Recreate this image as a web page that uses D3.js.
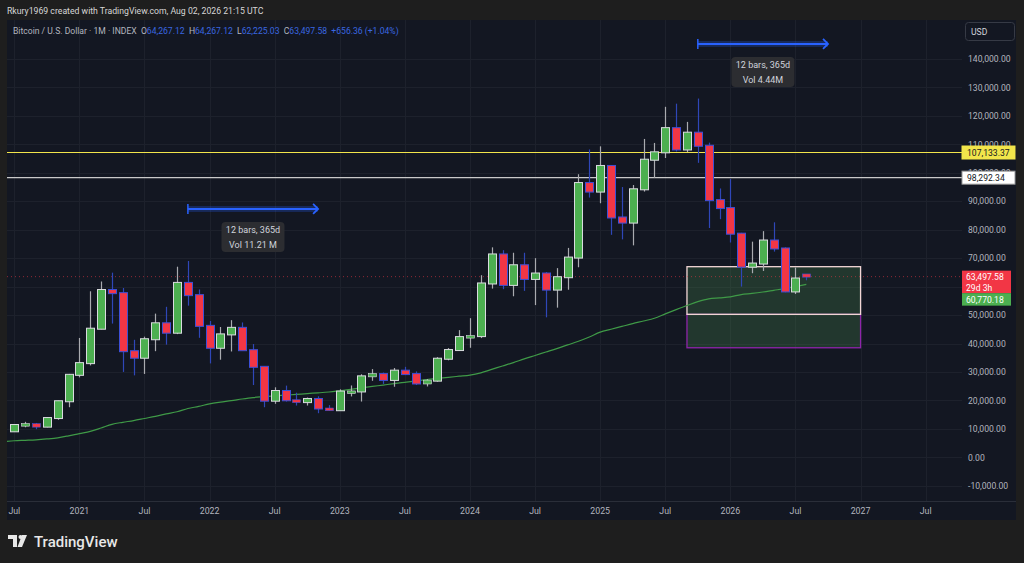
<!DOCTYPE html>
<html>
<head>
<meta charset="utf-8">
<script src="https://cdn.jsdelivr.net/npm/d3@7"></script>
<style>
  body { margin: 0; background: #1e1e1e; overflow: hidden; }
  svg text { font-family: Roboto, "Liberation Sans", sans-serif; }
</style>
</head>
<body>
<div id="chart"></div>
<script>
// Monthly BTC candles, Jul 2020 .. Aug 2026 (bar index 0..73)
const months = ["2020-07","2020-08","2020-09","2020-10","2020-11","2020-12",
  "2021-01","2021-02","2021-03","2021-04","2021-05","2021-06","2021-07","2021-08","2021-09","2021-10","2021-11","2021-12",
  "2022-01","2022-02","2022-03","2022-04","2022-05","2022-06","2022-07","2022-08","2022-09","2022-10","2022-11","2022-12",
  "2023-01","2023-02","2023-03","2023-04","2023-05","2023-06","2023-07","2023-08","2023-09","2023-10","2023-11","2023-12",
  "2024-01","2024-02","2024-03","2024-04","2024-05","2024-06","2024-07","2024-08","2024-09","2024-10","2024-11","2024-12",
  "2025-01","2025-02","2025-03","2025-04","2025-05","2025-06","2025-07","2025-08","2025-09","2025-10","2025-11","2025-12",
  "2026-01","2026-02","2026-03","2026-04","2026-05","2026-06","2026-07","2026-08"];

const opens = [9135,11350,11650,10780,13800,19700,
  28990,33100,45200,58800,57700,37300,35000,41500,47100,43800,61300,57000,
  46200,38500,43200,45500,37650,31800,19900,23300,20050,19400,20500,17150,
  16550,23100,23150,28450,29250,27200,30450,29250,25950,26950,34650,37700,
  42250,42600,61100,71300,60600,67500,62700,64600,58950,63300,70200,96400,
  93400,102400,84300,82500,94200,104600,107200,115700,108200,114100,109500,90400,
  87600,78600,67000,68100,76200,73400,58300,64267.12];
const highs = [11450,12470,12080,14100,19900,29300,
  41950,58350,61800,64900,59500,41300,42400,50500,52900,67000,69000,59000,
  47900,45800,48200,47400,39800,31900,24600,25200,22700,21000,21450,18350,
  23900,25250,29200,31000,29800,31400,31800,30200,27500,35200,38400,44700,
  48900,64000,73800,72800,71900,71900,70000,65100,66500,73600,99500,108200,
  109300,102700,95000,95700,111900,110500,123200,124300,117900,126100,110600,94500,
  97800,78900,75800,79500,82600,73800,66700,64267.12];
const lows = [8980,10550,9880,10530,13200,17600,
  28100,32300,45000,47000,30000,28800,29300,37300,39600,43300,53300,42000,
  33000,34300,37200,37600,25400,17600,18800,19600,18200,18200,15500,16300,
  16500,21400,19600,26900,25800,24800,28900,25400,24900,26550,34100,37600,
  38500,41900,59300,59100,56600,58500,53500,49200,52600,58900,66800,91300,
  89300,78200,76600,74500,93400,98200,105200,107500,107300,103500,80600,83700,
  75500,60000,64700,65500,72300,58000,57400,62225.03];
const closes = [11350,11650,10780,13800,19700,28990,
  33100,45200,58800,57700,37300,35000,41500,47100,43800,61300,57000,46200,
  38500,43200,45500,37650,31800,19900,23300,20050,19400,20500,17150,16550,
  23100,23150,28450,29250,27200,30450,29250,25950,26950,34650,37700,42250,
  42600,61100,71300,60600,67500,62700,64600,58950,63300,70200,96400,93400,
  102400,84300,82500,94200,104600,107200,115700,108200,114100,109500,90400,87600,
  78600,67000,68100,76200,73400,58300,62841,63497.58];

// green moving average, one value per bar (first value is the bar before Jul 2020)
const maIndex = d3.range(-1, 74);
const maValues = [5500,5820,5980,6150,6450,6850,7550,8350,9100,10300,11600,12300,12900,13650,14400,15250,16000,17150,17900,
  18800,19400,19900,20500,21000,21300,21600,21850,22100,22400,22650,22950,23400,23900,24400,24900,25400,25900,26350,26800,27350,
  27750,28100,28500,28900,29700,30900,32100,33300,34600,35800,37000,38200,39500,40800,42300,44000,45000,46000,47000,47900,48860,
  50400,51900,53350,54700,55700,56050,56400,57200,57600,58100,58700,59300,60000,60770.18];

// horizontal levels
const levelValues = [107133.37, 98292.34];
const levelColors = ["#f2e54b", "#c9c9c9"];
const lastPrice = 63497.58;
const maLast = 60770.18;

// long/short box (bar index range, price levels)
const boxBars = [62, 78];
const boxLevels = [67000, 50250, 38500];

// date range measurements
const ranges = [
  { from: 16, to: 28, price: 87300, line1: "12 bars, 365d", line2: "Vol 11.21 M" },
  { from: 63, to: 75, price: 145300, line1: "12 bars, 365d", line2: "Vol 4.44M" }
];

// axes (60,000 sits under the price tags and is not shown)
const yTicks = d3.range(-10000, 140001, 10000);
const yTickHidden = [60000];
const xTickBars = [0, 6, 12, 18, 24, 30, 36, 42, 48, 54, 60, 66, 72, 78, 84];
const xTickLabels = ["Jul","2021","Jul","2022","Jul","2023","Jul","2024","Jul","2025","Jul","2026","Jul","2027","Jul"];

// ---- setup
const W = 1024, H = 563;
const plot = { left: 7, right: 962, top: 20, bottom: 501 };
const axisFont = 8.6;

const svg = d3.select("#chart").append("svg")
  .attr("width", W).attr("height", H)
  .style("display", "block");

svg.append("rect").attr("width", W).attr("height", H).attr("fill", "#1e1e1e");
// panel
svg.append("rect").attr("x", 7).attr("y", 20).attr("width", 1009).attr("height", 500).attr("fill", "#131722");
svg.append("line").attr("x1", 7).attr("x2", 1016).attr("y1", 501.5).attr("y2", 501.5).attr("stroke", "#2a2e39");

const x = d3.scaleLinear().domain([-0.673, 87.35]).range([plot.left, plot.right]);
const y = d3.scaleLinear().domain([-15360, 153710]).range([plot.bottom, plot.top]);

svg.append("clipPath").attr("id", "clip").append("rect")
  .attr("x", plot.left).attr("y", plot.top)
  .attr("width", plot.right - plot.left).attr("height", plot.bottom - plot.top);

const g = svg.append("g").attr("clip-path", "url(#clip)");

// grid
g.selectAll(".hgrid").data(yTicks).join("line")
  .attr("x1", plot.left).attr("x2", plot.right)
  .attr("y1", d => Math.round(y(d)) + 0.5).attr("y2", d => Math.round(y(d)) + 0.5)
  .attr("stroke", "#1d212c");
g.selectAll(".vgrid").data(xTickBars).join("line")
  .attr("y1", plot.top).attr("y2", plot.bottom)
  .attr("x1", d => Math.round(x(d)) + 0.5).attr("x2", d => Math.round(x(d)) + 0.5)
  .attr("stroke", "#1d212c");

// long/short box
const bx0 = x(boxBars[0]), bx1 = x(boxBars[1]);
g.append("rect").attr("x", bx0).attr("y", y(boxLevels[1])).attr("width", bx1 - bx0)
  .attr("height", y(boxLevels[2]) - y(boxLevels[1]))
  .attr("fill", "rgba(76,140,80,0.28)").attr("stroke", "#8e24aa").attr("stroke-width", 1.3);
g.append("rect").attr("x", bx0).attr("y", y(boxLevels[0])).attr("width", bx1 - bx0)
  .attr("height", y(boxLevels[1]) - y(boxLevels[0]))
  .attr("fill", "rgba(76,140,80,0.28)").attr("stroke", "#f3d6d6").attr("stroke-width", 1.3);

// horizontal levels
g.selectAll(".level").data(levelValues).join("line")
  .attr("x1", plot.left).attr("x2", plot.right)
  .attr("y1", d => y(d)).attr("y2", d => y(d))
  .attr("stroke", (d, i) => levelColors[i]).attr("stroke-width", 1.2);

// last price dotted line
g.append("line").attr("x1", plot.left).attr("x2", plot.right)
  .attr("y1", y(lastPrice)).attr("y2", y(lastPrice))
  .attr("stroke", "#f23645").attr("stroke-opacity", 0.55).attr("stroke-dasharray", "1,3");

// moving average
const maLine = d3.line().x((d, i) => x(maIndex[i])).y(d => y(d)).curve(d3.curveMonotoneX);
g.append("path").attr("d", maLine(maValues))
  .attr("fill", "none").attr("stroke", "#3f9a47").attr("stroke-width", 1.2);

// candles
const candles = months.map((m, i) => ({ i, o: opens[i], h: highs[i], l: lows[i], c: closes[i] }));
const up = d => d.c >= d.o;

g.selectAll(".wick").data(candles).join("line")
  .attr("x1", d => Math.round(x(d.i)) + 0.5).attr("x2", d => Math.round(x(d.i)) + 0.5)
  .attr("y1", d => y(d.h)).attr("y2", d => y(d.l))
  .attr("stroke", d => up(d) ? "#a9abb0" : "#2f47b8").attr("stroke-width", 1.2);

g.selectAll(".body").data(candles).join("rect")
  .attr("x", d => Math.round(x(d.i)) - 3.5)
  .attr("width", 8)
  .attr("y", d => y(Math.max(d.o, d.c)) - 0.5)
  .attr("height", d => Math.max(2.5, Math.abs(y(d.o) - y(d.c)) + 1))
  .attr("fill", d => up(d) ? "#4caf50" : "#f23645")
  .attr("stroke", d => up(d) ? "#d9dbdf" : "#3d4fd6")
  .attr("stroke-width", d => Math.abs(y(d.o) - y(d.c)) < 3 ? 0.6 : 1);

// date range tools
ranges.forEach(r => {
  const x0 = x(r.from), x1 = x(r.to), yy = y(r.price);
  g.append("rect").attr("x", x0).attr("y", yy - 3).attr("width", x1 - x0).attr("height", 6)
    .attr("fill", "rgba(41,98,255,0.25)");
  g.append("line").attr("x1", x0).attr("x2", x1).attr("y1", yy).attr("y2", yy)
    .attr("stroke", "#2962ff").attr("stroke-width", 2);
  g.append("line").attr("x1", x0).attr("x2", x0).attr("y1", yy - 5).attr("y2", yy + 5)
    .attr("stroke", "#2962ff").attr("stroke-width", 1.5);
  g.append("path").attr("d", `M${x1 - 5},${yy - 5}L${x1},${yy}L${x1 - 5},${yy + 5}`)
    .attr("fill", "none").attr("stroke", "#2962ff").attr("stroke-width", 1.8);
  const cx = (x0 + x1) / 2;
  g.append("rect").attr("x", cx - 31.5).attr("y", yy + 13).attr("width", 63).attr("height", 30)
    .attr("rx", 4).attr("fill", "#2c2d31");
  g.append("text").attr("x", cx).attr("y", yy + 24.5).attr("text-anchor", "middle")
    .attr("font-size", 9).attr("fill", "#d1d4dc").text(r.line1);
  g.append("text").attr("x", cx).attr("y", yy + 39).attr("text-anchor", "middle")
    .attr("font-size", 9).attr("fill", "#d1d4dc").text(r.line2);
});

// price axis labels
const fmt = d3.format(",.2f");
svg.append("g").selectAll("text").data(yTicks.filter(d => !yTickHidden.includes(d))).join("text")
  .attr("x", 968).attr("y", d => y(d) + 3.2)
  .attr("font-size", axisFont).attr("fill", "#b2b5be")
  .text(d => fmt(d).replace("−", "-"));

// USD box
svg.append("rect").attr("x", 965.5).attr("y", 22.5).attr("width", 49).attr("height", 18).attr("rx", 3)
  .attr("fill", "#131722").attr("stroke", "#363a45");
svg.append("text").attr("x", 971).attr("y", 35).attr("font-size", axisFont).attr("fill", "#d1d4dc").text("USD");

// level tags
const tagX = 962, tagW = 53;
levelValues.forEach((v, i) => {
  svg.append("rect").attr("x", tagX).attr("y", y(v) - 6.5).attr("width", tagW).attr("height", 13)
    .attr("fill", i === 0 ? "#f2e54b" : "#ffffff").attr("stroke", i === 0 ? "#f2e54b" : "#9a9a9a");
  svg.append("text").attr("x", tagX + 5).attr("y", y(v) + 3.2).attr("font-size", axisFont)
    .attr("fill", "#131722").text(fmt(v));
});
// last price + countdown tag
const ly = y(lastPrice);
svg.append("rect").attr("x", tagX).attr("y", ly - 6).attr("width", 49).attr("height", 22.5).attr("fill", "#f23645");
svg.append("text").attr("x", tagX + 4).attr("y", ly + 3.5).attr("font-size", axisFont).attr("fill", "#ffffff").text(fmt(lastPrice));
svg.append("text").attr("x", tagX + 4).attr("y", ly + 14).attr("font-size", axisFont).attr("fill", "#ffffff").text("29d 3h");
svg.append("rect").attr("x", tagX).attr("y", ly + 16.5).attr("width", 49).attr("height", 12.5).attr("fill", "#4caf50");
svg.append("text").attr("x", tagX + 4).attr("y", ly + 26).attr("font-size", axisFont).attr("fill", "#ffffff").text(fmt(maLast));

// time axis labels
svg.append("g").selectAll("text").data(xTickBars).join("text")
  .attr("x", d => x(d)).attr("y", 514).attr("text-anchor", "middle")
  .attr("font-size", 8.8).attr("fill", "#b2b5be")
  .text((d, i) => xTickLabels[i]);

// header
svg.append("text").attr("x", 7).attr("y", 14).attr("font-size", 8.7).attr("fill", "#d6d6d6")
  .text("Rkury1969 created with TradingView.com, Aug 02, 2026 21:15 UTC");

const legend = svg.append("text").attr("x", 13).attr("y", 34).attr("font-size", 8.6)
  .attr("fill", "#b2b5be").style("white-space", "pre");
legend.append("tspan").text("Bitcoin / U.S. Dollar · 1M · INDEX  ");
const legendParts = [["O", "64,267.12"], ["H", "64,267.12"], ["L", "62,225.03"], ["C", "63,497.58"]];
legendParts.forEach(([k, v]) => {
  legend.append("tspan").text(k);
  legend.append("tspan").attr("fill", "#3a67e0").text(v + "  ");
});
legend.append("tspan").attr("fill", "#3a67e0").text("+656.36 (+1.04%)");

// TradingView logo
const logo = svg.append("g").attr("transform", "translate(8,535)").attr("fill", "#e8e8e8");
logo.append("path").attr("d", "M0,0H9V12H5V4H0Z");
logo.append("circle").attr("cx", 12.5).attr("cy", 2).attr("r", 2);
logo.append("path").attr("d", "M14,0H19L14,12H9.5Z");
svg.append("text").attr("x", 34).attr("y", 546.5).attr("font-size", 15).attr("font-weight", 500)
  .attr("fill", "#e8e8e8").text("TradingView");
</script>
</body>
</html>
